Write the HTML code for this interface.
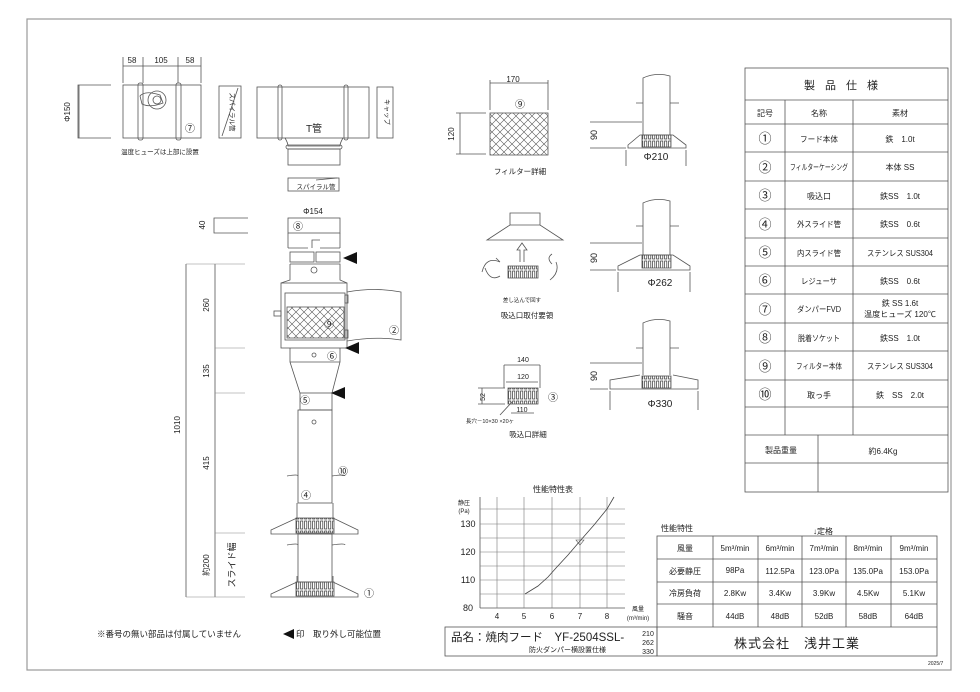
<!DOCTYPE html>
<html><head><meta charset="utf-8"><style>
html,body{margin:0;padding:0;background:#fff;}
svg{display:block;}
text{font-family:"Liberation Sans","Noto Sans CJK JP",sans-serif;fill:#222;}
</style></head><body>
<svg width="980" height="692" viewBox="0 0 980 692" xmlns="http://www.w3.org/2000/svg">
<defs>
<pattern id="mesh" width="8" height="8" patternUnits="userSpaceOnUse">
<path d="M0 0L8 8M8 0L0 8" stroke="#555" stroke-width="0.6"/>
</pattern>
<pattern id="louv" width="4" height="10" patternUnits="userSpaceOnUse">
<rect x="0.6" y="1" width="2.2" height="8" fill="none" stroke="#333" stroke-width="0.7"/>
</pattern>
</defs>
<g fill="none" stroke="#555" stroke-width="0.8">
<rect x="27" y="19" width="924" height="651" stroke="#999" stroke-width="1.2"/>

<rect x="745" y="68" width="203" height="424"/>
<line x1="745" y1="100" x2="948" y2="100"/>
<line x1="745" y1="124" x2="948" y2="124"/>
<line x1="745" y1="152" x2="948" y2="152"/>
<line x1="745" y1="181" x2="948" y2="181"/>
<line x1="745" y1="209" x2="948" y2="209"/>
<line x1="745" y1="238" x2="948" y2="238"/>
<line x1="745" y1="266" x2="948" y2="266"/>
<line x1="745" y1="294" x2="948" y2="294"/>
<line x1="745" y1="323" x2="948" y2="323"/>
<line x1="745" y1="351" x2="948" y2="351"/>
<line x1="745" y1="380" x2="948" y2="380"/>
<line x1="745" y1="407" x2="948" y2="407"/>
<line x1="745" y1="435" x2="948" y2="435"/>
<line x1="745" y1="463" x2="948" y2="463"/>
<line x1="785" y1="100" x2="785" y2="435"/>
<line x1="853" y1="100" x2="853" y2="435"/>
<line x1="818" y1="435" x2="818" y2="492"/>

<rect x="657" y="536" width="280" height="120"/>
<line x1="657" y1="559" x2="937" y2="559"/>
<line x1="657" y1="582" x2="937" y2="582"/>
<line x1="657" y1="604" x2="937" y2="604"/>
<line x1="657" y1="627" x2="937" y2="627"/>
<line x1="713" y1="536" x2="713" y2="627"/>
<line x1="758" y1="536" x2="758" y2="627"/>
<line x1="802" y1="536" x2="802" y2="627"/>
<line x1="846" y1="536" x2="846" y2="627"/>
<line x1="891" y1="536" x2="891" y2="627"/>
<rect x="445" y="627" width="212" height="29"/>

<line x1="480" y1="497" x2="480" y2="608"/>
<line x1="480" y1="608" x2="625" y2="608"/>
<g stroke="#777" stroke-width="0.6">
<line x1="497" y1="497" x2="497" y2="608"/><line x1="524" y1="497" x2="524" y2="608"/>
<line x1="552" y1="497" x2="552" y2="608"/><line x1="580" y1="497" x2="580" y2="608"/>
<line x1="607" y1="497" x2="607" y2="608"/>
<line x1="480" y1="509" x2="625" y2="509"/><line x1="480" y1="524" x2="625" y2="524"/>
<line x1="480" y1="538" x2="625" y2="538"/><line x1="480" y1="552" x2="625" y2="552"/>
<line x1="480" y1="566" x2="625" y2="566"/><line x1="480" y1="580" x2="625" y2="580"/>
<line x1="480" y1="594" x2="625" y2="594"/>
</g>
<polyline points="525,594 538,586 548,577 556,568 568,555 580,541 594,525 607,509 614,497" stroke="#444"/>
<path d="M576 540 L584 540 L580 545 Z" stroke-width="0.6"/>

<path d="M111 85 H78 V138 H111"/>
<rect x="123" y="85" width="78" height="53"/>
<rect x="138" y="83" width="5" height="57" rx="2"/>
<rect x="176" y="83" width="5" height="57" rx="2"/>
<circle cx="157" cy="100" r="9"/><circle cx="157" cy="100" r="4"/>
<path d="M140 96 Q145 90 160 95 L163 103 Q150 108 142 104 Z"/>
<line x1="123" y1="57" x2="123" y2="83"/><line x1="143" y1="57" x2="143" y2="83"/>
<line x1="178" y1="57" x2="178" y2="83"/><line x1="201" y1="57" x2="201" y2="83"/>
<line x1="123" y1="66" x2="201" y2="66"/>
<line x1="79" y1="85" x2="79" y2="138"/>
<rect x="219" y="86" width="22" height="52"/>
<line x1="222" y1="136" x2="238" y2="88"/>
<rect x="257" y="87" width="112" height="51"/>
<rect x="278" y="85" width="4" height="55" rx="2"/>
<rect x="344" y="85" width="4" height="55" rx="2"/>
<path d="M285 138 Q288 143 288 146 H340 Q340 143 343 138"/>
<rect x="286" y="145" width="56" height="4" rx="2"/>
<rect x="288" y="149" width="52" height="16"/>
<rect x="377" y="87" width="16" height="51"/>
<rect x="288" y="178" width="51" height="13"/>
<line x1="316" y1="180" x2="337" y2="178"/>
<path d="M248 218 H214 V233 H248"/>
<rect x="288" y="218" width="52" height="15"/>
<path d="M288 233 V248 M340 233 V248 M312 248 V240 H320"/>
<line x1="288" y1="248" x2="308" y2="248"/><line x1="320" y1="248" x2="340" y2="248"/>
<rect x="290" y="252" width="24" height="10"/><rect x="316" y="252" width="24" height="10"/>

<line x1="186" y1="264" x2="186" y2="597"/>
<line x1="215" y1="264" x2="215" y2="597"/>
<g stroke="#888" stroke-width="0.6">
<line x1="186" y1="264" x2="245" y2="264"/><line x1="215" y1="348" x2="245" y2="348"/>
<line x1="215" y1="393" x2="245" y2="393"/><line x1="215" y1="533" x2="245" y2="533"/>
<line x1="186" y1="597" x2="245" y2="597"/>
</g>
<path d="M290 264 H340 V280 L347 283 M290 264 V280 L281 283"/>
<rect x="281" y="283" width="66" height="65"/>
<rect x="285" y="293" width="60" height="47"/>
<rect x="287" y="307" width="57" height="31" fill="url(#mesh)"/>
<rect x="274" y="311" width="7" height="5"/>
<path d="M347 292 Q375 287 401 292 V340 Q375 336 347 341"/>
<rect x="345" y="295" width="3" height="8"/><rect x="345" y="330" width="3" height="8"/>
<circle cx="314" cy="270" r="3"/>
<path d="M290 348 V362 L300 393 M340 348 V362 L332 393 M290 362 H340"/>
<circle cx="314" cy="355" r="2"/>
<rect x="300" y="393" width="32" height="17"/>
<rect x="298" y="410" width="34" height="93"/>
<circle cx="314" cy="422" r="2"/>
<path d="M287 476 Q298 474 298 476 M332 476 Q345 474 345 476"/>
<path d="M297 503 V518 L271 530 V534 H358 V530 L333 518 V503"/>
<rect x="296" y="518" width="38" height="15" fill="url(#louv)"/>
<rect x="298" y="534" width="34" height="48"/>
<path d="M287 545 Q298 543 298 545 M332 545 Q345 543 345 545"/>
<path d="M297 576 V582 L271 594 V597 H358 V594 L333 582 V576"/>
<rect x="296" y="582" width="38" height="14" fill="url(#louv)"/>

<rect x="490" y="113" width="58" height="42" fill="url(#mesh)"/>
<line x1="490" y1="80" x2="490" y2="110"/><line x1="548" y1="80" x2="548" y2="110"/>
<line x1="490" y1="83" x2="548" y2="83"/>
<line x1="456" y1="113" x2="486" y2="113"/><line x1="456" y1="154" x2="486" y2="154"/>
<line x1="460" y1="113" x2="460" y2="154"/>

<path d="M510 225 V213 H540 V225 M487 240 L510 225 H540 L563 240 Z"/>
<path d="M520 262 V250 H517 L522 243 L527 250 H524 V262"/>
<rect x="508" y="266" width="30" height="12" fill="url(#louv)"/>
<path d="M482 272 Q486 256 500 262 M500 262 L496 258 M485 268 Q490 282 500 276"/>
<path d="M556 262 Q560 272 550 280 M552 264 Q546 258 552 254"/>

<rect x="508" y="388" width="30" height="16" fill="url(#louv)"/>
<line x1="504" y1="365" x2="540" y2="365"/><line x1="506" y1="382" x2="538" y2="382"/>
<line x1="504" y1="365" x2="504" y2="388"/><line x1="540" y1="365" x2="540" y2="388"/>
<line x1="511" y1="413" x2="534" y2="413"/>
<line x1="478" y1="388" x2="505" y2="388"/><line x1="478" y1="404" x2="505" y2="404"/>
<line x1="482" y1="388" x2="482" y2="404"/>
<line x1="500" y1="415" x2="512" y2="402"/>

<path d="M643 135 V78 Q656 72 670 76 V135"/>
<path d="M636 103 H643 M670 103 H679"/>
<path d="M640 135 L628 145 V148 H686 V145 L673 135 Z"/>
<rect x="642" y="135" width="29" height="12" fill="url(#louv)"/>
<line x1="590" y1="122" x2="642" y2="122"/><line x1="590" y1="148" x2="626" y2="148"/>
<line x1="626" y1="150" x2="626" y2="166"/><line x1="686" y1="150" x2="686" y2="166"/>
<path d="M643 255 V203 Q656 197 670 201 V255"/>
<path d="M636 226 H643 M670 226 H679"/>
<path d="M640 255 L618 266 V270 H690 V266 L673 255 Z"/>
<rect x="642" y="255" width="29" height="13" fill="url(#louv)"/>
<line x1="590" y1="243" x2="642" y2="243"/><line x1="590" y1="270" x2="616" y2="270"/>
<line x1="618" y1="272" x2="618" y2="292"/><line x1="690" y1="272" x2="690" y2="292"/>
<path d="M643 375 V323 Q656 317 670 321 V375"/>
<path d="M636 348 H643 M670 348 H679"/>
<path d="M640 375 L610 380 V389 H698 V380 L673 375"/>
<rect x="642" y="376" width="29" height="12" fill="url(#louv)"/>
<line x1="590" y1="363" x2="642" y2="363"/><line x1="590" y1="389" x2="608" y2="389"/>
<line x1="610" y1="391" x2="610" y2="410"/><line x1="698" y1="391" x2="698" y2="410"/>
</g>

<g fill="#111">
<path d="M343 258 L357 252 V264 Z"/>
<path d="M345 348 L359 342 V354 Z"/>
<path d="M331 393 L345 387 V399 Z"/>
<path d="M283 634 L294 629 V639 Z"/>
</g>

<g font-size="8" text-anchor="middle">
<text x="132" y="63">58</text><text x="161" y="63">105</text><text x="190" y="63">58</text>
<text x="70" y="112" transform="rotate(-90 70 112)">Φ150</text>
<text x="190" y="132" font-size="10">⑦</text>
<text x="160" y="154" font-size="6.5">温度ヒューズは上部に設置</text>
<text x="230" y="112" font-size="6.5" transform="rotate(90 230 112)">スパイラル管</text>
<text x="314" y="132" font-size="10">T管</text>
<text x="385" y="112" font-size="6.5" transform="rotate(90 385 112)">キャップ</text>
<text x="316" y="189" font-size="6.5">スパイラル管</text>
<text x="313" y="214">Φ154</text>
<text x="205" y="225" transform="rotate(-90 205 225)">40</text>
<text x="298" y="230" font-size="10">⑧</text>
<text x="180" y="425" transform="rotate(-90 180 425)">1010</text>
<text x="209" y="305" transform="rotate(-90 209 305)">260</text>
<text x="209" y="371" transform="rotate(-90 209 371)">135</text>
<text x="209" y="463" transform="rotate(-90 209 463)">415</text>
<text x="209" y="565" transform="rotate(-90 209 565)">約200</text>
<text x="235" y="565" font-size="9" transform="rotate(-90 235 565)">スライド幅</text>
<text x="329" y="328" font-size="10">⑨</text>
<text x="394" y="334" font-size="10">②</text>
<text x="332" y="360" font-size="10">⑥</text>
<text x="305" y="404" font-size="10">⑤</text>
<text x="343" y="475" font-size="10">⑩</text>
<text x="306" y="499" font-size="10">④</text>
<text x="369" y="597" font-size="10">①</text>
<text x="513" y="82">170</text>
<text x="520" y="108" font-size="10">⑨</text>
<text x="454" y="134" transform="rotate(-90 454 134)">120</text>
<text x="520" y="174" font-size="7.5">フィルター詳細</text>
<text x="522" y="302" font-size="5.5">差し込んで回す</text>
<text x="527" y="318" font-size="7.5">吸込口取付要領</text>
<text x="523" y="362" font-size="7">140</text>
<text x="523" y="379" font-size="7">120</text>
<text x="522" y="412" font-size="7">110</text>
<text x="485" y="397" font-size="7" transform="rotate(-90 485 397)">52</text>
<text x="553" y="401" font-size="10">③</text>
<text x="490" y="423" font-size="5.5">長穴－10×30 ×20ヶ</text>
<text x="528" y="437" font-size="7.5">吸込口詳細</text>
<text x="597" y="135" font-size="9" transform="rotate(-90 597 135)">90</text>
<text x="597" y="258" font-size="9" transform="rotate(-90 597 258)">90</text>
<text x="597" y="376" font-size="9" transform="rotate(-90 597 376)">90</text>
<text x="656" y="160" font-size="10">Φ210</text>
<text x="660" y="286" font-size="10">Φ262</text>
<text x="660" y="407" font-size="10">Φ330</text>
<text x="553" y="492" font-size="8">性能特性表</text>
<text x="464" y="505" font-size="6">静圧</text>
<text x="464" y="513" font-size="6">(Pa)</text>
<text x="468" y="527" font-size="9">130</text>
<text x="468" y="555" font-size="9">120</text>
<text x="468" y="583" font-size="9">110</text>
<text x="468" y="611" font-size="9">80</text>
<text x="497" y="619">4</text><text x="524" y="619">5</text><text x="552" y="619">6</text><text x="580" y="619">7</text><text x="607" y="619">8</text>
<text x="638" y="611" font-size="6">風量</text>
<text x="638" y="620" font-size="6">(m³/min)</text>
<text x="846" y="89" font-size="11" letter-spacing="10">製品仕様</text>
<text x="765" y="116" font-size="8">記号</text>
<text x="819" y="116" font-size="8">名称</text>
<text x="900" y="116" font-size="8">素材</text>
</g>
<g font-size="13" text-anchor="middle">
<text x="765" y="143">①</text><text x="765" y="172">②</text><text x="765" y="200">③</text>
<text x="765" y="229">④</text><text x="765" y="257">⑤</text><text x="765" y="285">⑥</text>
<text x="765" y="314">⑦</text><text x="765" y="342">⑧</text><text x="765" y="371">⑨</text>
<text x="765" y="399">⑩</text>
</g>
<g font-size="8" text-anchor="middle">
<text x="819" y="142" textLength="38" lengthAdjust="spacingAndGlyphs">フード本体</text>
<text x="819" y="170" textLength="58" lengthAdjust="spacingAndGlyphs">フィルターケーシング</text>
<text x="819" y="199">吸込口</text>
<text x="819" y="227" textLength="44" lengthAdjust="spacingAndGlyphs">外スライド管</text>
<text x="819" y="256" textLength="44" lengthAdjust="spacingAndGlyphs">内スライド管</text>
<text x="819" y="284" textLength="36" lengthAdjust="spacingAndGlyphs">レジューサ</text>
<text x="819" y="312" textLength="44" lengthAdjust="spacingAndGlyphs">ダンパーFVD</text>
<text x="819" y="341" textLength="42" lengthAdjust="spacingAndGlyphs">脱着ソケット</text>
<text x="819" y="369" textLength="46" lengthAdjust="spacingAndGlyphs">フィルター本体</text>
<text x="819" y="398">取っ手</text>
<text x="900" y="142">鉄　1.0t</text><text x="900" y="170">本体 SS</text>
<text x="900" y="199">鉄SS　1.0t</text><text x="900" y="227">鉄SS　0.6t</text>
<text x="900" y="256" textLength="66" lengthAdjust="spacingAndGlyphs">ステンレス SUS304</text><text x="900" y="284">鉄SS　0.6t</text>
<text x="900" y="306">鉄 SS 1.6t</text><text x="900" y="317" textLength="72" lengthAdjust="spacingAndGlyphs">温度ヒューズ 120℃</text>
<text x="900" y="341">鉄SS　1.0t</text><text x="900" y="369" textLength="66" lengthAdjust="spacingAndGlyphs">ステンレス SUS304</text>
<text x="900" y="398">鉄　SS　2.0t</text>
<text x="781" y="453">製品重量</text><text x="883" y="454">約6.4Kg</text>
<text x="661" y="531" text-anchor="start">性能特性</text>
<text x="823" y="534">↓定格</text>
<text x="685" y="551">風量</text><text x="685" y="574">必要静圧</text>
<text x="685" y="596">冷房負荷</text><text x="685" y="619">騒音</text>
<text x="735" y="551">5m³/min</text><text x="780" y="551">6m³/min</text><text x="824" y="551">7m³/min</text><text x="868" y="551">8m³/min</text><text x="914" y="551">9m³/min</text>
<text x="735" y="573">98Pa</text><text x="780" y="574">112.5Pa</text><text x="824" y="574">123.0Pa</text><text x="868" y="574">135.0Pa</text><text x="914" y="574">153.0Pa</text>
<text x="735" y="596">2.8Kw</text><text x="780" y="596">3.4Kw</text><text x="824" y="596">3.9Kw</text><text x="868" y="596">4.5Kw</text><text x="914" y="596">5.1Kw</text>
<text x="735" y="619">44dB</text><text x="780" y="619">48dB</text><text x="824" y="619">52dB</text><text x="868" y="619">58dB</text><text x="914" y="619">64dB</text>
<text x="797" y="648" font-size="13" letter-spacing="1">株式会社　浅井工業</text>
</g>
<text x="451" y="641" font-size="11.5">品名：焼肉フード　YF-2504SSL-</text>
<text x="529" y="652" font-size="7">防火ダンパー横設置仕様</text>
<g font-size="7" text-anchor="middle"><text x="648" y="636">210</text><text x="648" y="645">262</text><text x="648" y="654">330</text></g>
<text x="97" y="637" font-size="8.5">※番号の無い部品は付属していません</text>
<text x="296" y="637" font-size="8.5">印　取り外し可能位置</text>
<text x="928" y="665" font-size="5">2025/7</text>
</svg>
</body></html>
